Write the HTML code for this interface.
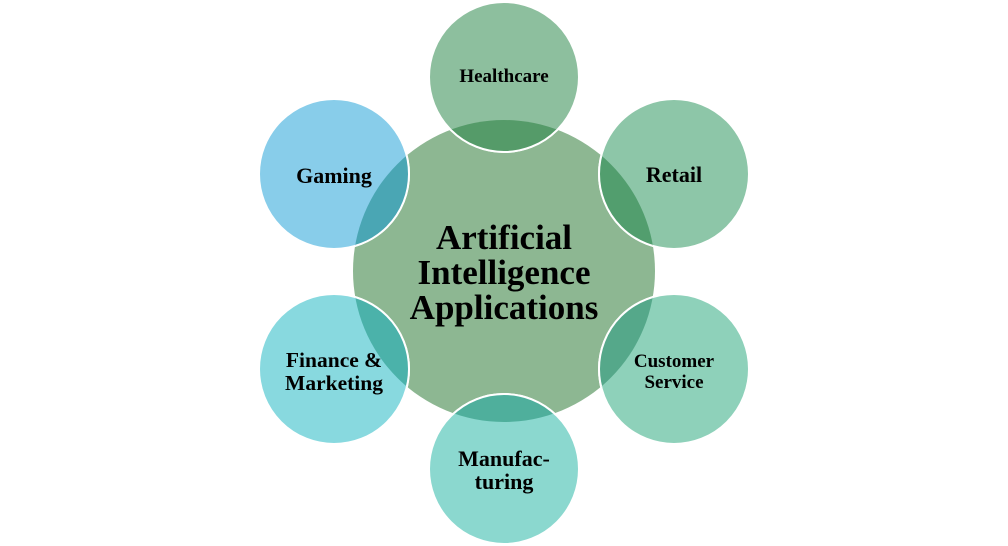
<!DOCTYPE html>
<html><head><style>body{margin:0;background:#fff}svg{display:block}text{font-family:"Liberation Serif",serif;font-weight:bold;fill:#000;text-anchor:middle}</style></head><body>
<svg width="1008" height="546" viewBox="0 0 1008 546">
<defs><clipPath id="c"><circle cx="504" cy="271" r="151"/></clipPath></defs>
<circle cx="504" cy="271" r="151" fill="#8db792"/>
<g stroke="#fff" stroke-width="2">
<circle cx="504" cy="77" r="75" fill="#8dbf9e"/>
<circle cx="674" cy="174" r="75" fill="#8dc6a8"/>
<circle cx="674" cy="369" r="75" fill="#8ed1ba"/>
<circle cx="504" cy="469" r="75" fill="#8bd8cf"/>
<circle cx="334" cy="369" r="75" fill="#88d9df"/>
<circle cx="334" cy="174" r="75" fill="#88cdea"/>
</g>
<g clip-path="url(#c)" stroke="#fff" stroke-width="2">
<circle cx="504" cy="77" r="75" fill="#559b69"/>
<circle cx="674" cy="174" r="75" fill="#529e6e"/>
<circle cx="674" cy="369" r="75" fill="#55a88a"/>
<circle cx="504" cy="469" r="75" fill="#4faf9c"/>
<circle cx="334" cy="369" r="75" fill="#4bb2aa"/>
<circle cx="334" cy="174" r="75" fill="#4aa6b4"/>
</g>
<text x="504" y="249" font-size="35">Artificial</text>
<text x="504" y="284" font-size="35">Intelligence</text>
<text x="504" y="319" font-size="35">Applications</text>
<text x="504" y="82" font-size="19">Healthcare</text>
<text x="674" y="182" font-size="22">Retail</text>
<text x="334" y="183" font-size="22">Gaming</text>
<text x="674" y="367" font-size="19">Customer</text>
<text x="674" y="388" font-size="19">Service</text>
<text x="334" y="367" font-size="21.5">Finance &amp;</text>
<text x="334" y="390" font-size="21.5">Marketing</text>
<text x="504" y="466" font-size="22">Manufac-</text>
<text x="504" y="489" font-size="22">turing</text>
</svg>
</body></html>
